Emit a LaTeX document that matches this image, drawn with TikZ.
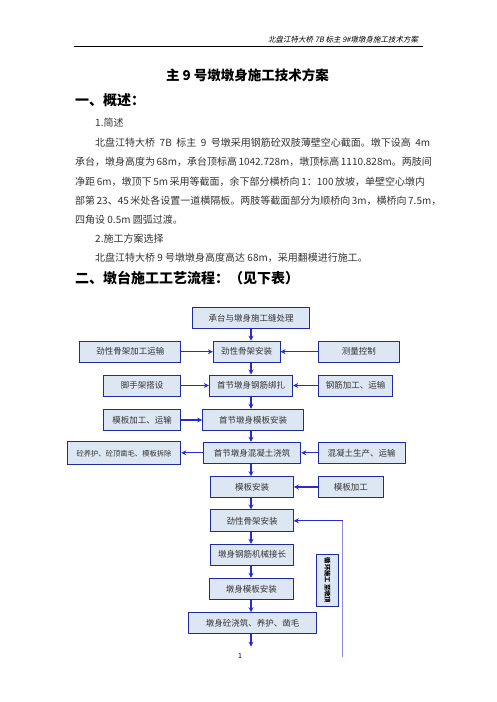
\documentclass[tikz,border=0pt]{standalone}
\usepackage{fontspec}
\setmainfont{Noto Sans CJK SC}
\newfontfamily\cjkit[FakeSlant=0.2]{Noto Sans CJK SC}
\usetikzlibrary{arrows.meta}
\XeTeXlinebreaklocale "zh"
\XeTeXlinebreakskip=0pt plus 3pt
\definecolor{boxfill}{HTML}{DDE6F3}
\definecolor{boxdraw}{HTML}{1F2A9E}
\definecolor{arrcol}{HTML}{2A2AD0}
\definecolor{loopcol}{HTML}{8C8CE6}
\definecolor{txt}{HTML}{333333}
\newcommand\jline[2]{\makebox[#1][s]{#2}}
\tikzset{
 box/.style={draw=boxdraw, line width=1pt, fill=boxfill, inner sep=0pt, text=txt, font=\fontsize{8.5}{10}\selectfont},
 arr/.style={draw=arrcol, line width=1.2pt, -{Stealth[length=5pt,width=5pt]}},
 loopline/.style={draw=loopcol, line width=1pt},
 body/.style={anchor=west, inner sep=0pt, text=txt, font=\fontsize{10}{12}\selectfont},
 head/.style={anchor=west, inner sep=0pt, text=black, font=\bfseries\fontsize{14}{16}\selectfont},
}
\begin{document}
\begin{tikzpicture}[x=1pt,y=-1pt]
\useasboundingbox (0,0) rectangle (496,702);
% header
\node[anchor=west, inner sep=0pt, text=black, font=\cjkit\fontsize{7.5}{9}\selectfont] (hdr) at (268,40) {北盘江特大桥 7B 标主 9\#墩墩身施工技术方案};
\coordinate (hl) at (74,46);
\coordinate (hr) at (423,46);
\draw[line width=1pt] (hl) -- (hr);
% title
\node[inner sep=0pt, font=\bfseries\fontsize{13.5}{15}\selectfont] (title) at (247.5,75) {主 9 号墩墩身施工技术方案};
\node[head] (h1) at (75,100) {一、概述：};
\node[body] (s1) at (95,123) {1.简述};
\node[body] (p1) at (95,143) {\jline{335pt}{北盘江特大桥 7B 标主 9 号墩采用钢筋砼双肢薄壁空心截面。墩下设高 4m}};
\node[body] (p2) at (75,162) {\jline{350pt}{承台，墩身高度为 68m，承台顶标高 1042.728m，墩顶标高 1110.828m。两肢间}};
\node[body] (p3) at (75,182) {\jline{350pt}{净距 6m，墩顶下 5m 采用等截面，余下部分横桥向 1：100 放坡，单壁空心墩内}};
\node[body] (p4) at (75,201) {\jline{350pt}{部第 23、45 米处各设置一道横隔板。两肢等截面部分为顺桥向 3m，横桥向 7.5m，}};
\node[body] (p5) at (75,220) {四角设 0.5m 圆弧过渡。};
\node[body] (s2) at (95,239) {2.施工方案选择};
\node[body] (p6) at (95,258) {北盘江特大桥 9 号墩墩身高度高达 68m，采用翻模进行施工。};
\node[head] (h2) at (75,278) {二、墩台施工工艺流程：（见下表）};
% flowchart
\node[box, minimum width=116.6pt, minimum height=20.6pt] (B1) at (251,318) {承台与墩身施工缝处理};
\node[box, minimum width=100.7pt, minimum height=21pt] (B2) at (130.3,351.7) {劲性骨架加工运输};
\node[box, minimum width=66.7pt, minimum height=21pt] (B3) at (246.7,351.7) {劲性骨架安装};
\node[box, minimum width=81pt, minimum height=21pt] (B4) at (358.8,351.7) {测量控制};
\node[box, minimum width=77.4pt, minimum height=21pt] (B5) at (142,385.5) {脚手架搭设};
\node[box, minimum width=83.4pt, minimum height=21pt] (B6) at (251,385.5) {首节墩身钢筋绑扎};
\node[box, minimum width=74.4pt, minimum height=21pt] (B7) at (355.5,385.5) {钢筋加工、运输};
\node[box, minimum width=77.4pt, minimum height=21.4pt] (B8) at (142,420) {模板加工、运输};
\node[box, minimum width=100.6pt, minimum height=21.4pt] (B9) at (253,420) {首节墩身模板安装};
\node[box, minimum width=113.4pt, minimum height=23pt, font=\fontsize{7.3}{9}\selectfont] (B10) at (124,453.3) {砼养护、砼顶凿毛、模板拆除};
\node[box, minimum width=97.4pt, minimum height=21pt] (B11) at (252,452.8) {首节墩身混凝土浇筑};
\node[box, minimum width=86.7pt, minimum height=21pt] (B12) at (361.7,452.8) {混凝土生产、运输};
\node[box, minimum width=82.6pt, minimum height=20.6pt] (B13) at (252,487) {模板安装};
\node[box, minimum width=65pt, minimum height=20.6pt] (B14) at (350.8,487) {模板加工};
\node[box, minimum width=82.6pt, minimum height=21.7pt] (B15) at (252,520.8) {劲性骨架安装};
\node[box, minimum width=82.6pt, minimum height=20.7pt] (B16) at (252,554.7) {墩身钢筋机械接长};
\node[box, minimum width=84pt, minimum height=21pt] (B17) at (251.3,588.8) {墩身模板安装};
\node[box, minimum width=128.4pt, minimum height=20.6pt] (B18) at (252.5,623) {墩身砼浇筑、养护、凿毛};
\node[box, minimum width=21.6pt, minimum height=52.4pt] (S) at (327.5,580.5) {};
\node[rotate=-90, inner sep=0pt, text=black, font=\bfseries\fontsize{6.3}{7}\selectfont] (St) at (S.center) {循环施工 至墩顶};
\coordinate (E) at (251.7,646.7);
\coordinate (L0) at (342.7,656.7);
\coordinate (L1) at (342.7,520.8);
\node[inner sep=0pt, font=\fontsize{7}{8}\selectfont] (pg) at (240,656) {1};
% vertical arrows
\draw[arr] (B1.south) -- (B1.south |- B3.north);
\draw[arr] (B1.south |- B3.south) -- (B1.south |- B6.north);
\draw[arr] (B1.south |- B6.south) -- (B1.south |- B9.north);
\draw[arr] (B1.south |- B9.south) -- (B1.south |- B11.north);
\draw[arr] (B1.south |- B11.south) -- (B1.south |- B13.north);
\draw[arr] (B1.south |- B13.south) -- (B1.south |- B15.north);
\draw[arr] (B1.south |- B15.south) -- (B1.south |- B16.north);
\draw[arr] (B1.south |- B16.south) -- (B1.south |- B17.north);
\draw[arr] (B1.south |- B17.south) -- (B1.south |- B18.north);
\draw[arr] (B1.south |- B18.south) -- (B1.south |- E);
% horizontal arrows
\draw[arr] (B2.east) -- (B2.east -| B3.west);
\draw[arr] (B4.west) -- (B4.west -| B3.east);
\draw[arr] (B5.east) -- (B5.east -| B6.west);
\draw[arr] (B7.west) -- (B7.west -| B6.east);
\draw[arr] (B8.east) -- (B8.east -| B9.west);
\draw[arr] (B11.west) -- (B11.west -| B10.east);
\draw[arr] (B12.west) -- (B12.west -| B11.east);
\draw[arr] (B14.west) -- (B14.west -| B13.east);
% loop
\draw[loopline] (L0) -- (L1);
\draw[arr] (L1) -- (B15.east);
\end{tikzpicture}
\end{document}
